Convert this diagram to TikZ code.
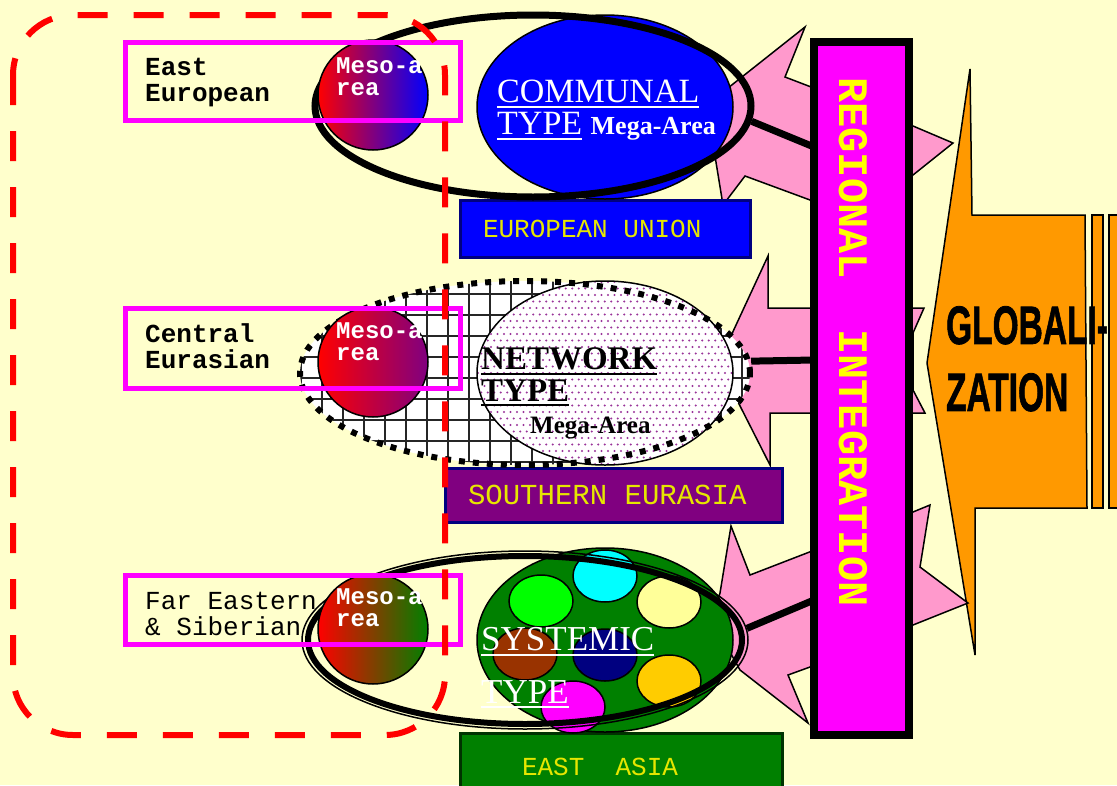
\documentclass[tikz,border=0pt]{standalone}
\usepackage{fontspec}
\setmainfont{Liberation Serif}
\newfontfamily\monofont{Liberation Mono}[WordSpace={1,0,0}]
\newfontfamily\globfont{Liberation Sans}[FakeBold=1.5]
\usepackage{tikz}
\usetikzlibrary{shapes.geometric}
\definecolor{paper}{HTML}{FFFFCC}
\definecolor{pinkarrow}{HTML}{FF99CC}
\definecolor{globorange}{HTML}{FF9900}
\definecolor{boxyellow}{HTML}{E6E600}
\definecolor{baryellow}{HTML}{FFFF00}
\definecolor{navyline}{HTML}{000080}
\definecolor{eurasia}{HTML}{800080}
\definecolor{asiagreen}{HTML}{008000}
\definecolor{asialine}{HTML}{003300}
\definecolor{dotpurple}{HTML}{993399}
\definecolor{brownarea}{HTML}{993300}
\definecolor{goldarea}{HTML}{FFCC00}
\definecolor{paleyellow}{HTML}{FFFF99}
\definecolor{fullmagenta}{HTML}{FF00FF}
\definecolor{fullcyan}{HTML}{00FFFF}
\definecolor{fullgreen}{HTML}{00FF00}
\definecolor{fullblue}{HTML}{0000FF}
\definecolor{fullred}{HTML}{FF0000}
\newcommand\typeline[1]{\vtop{\hbox{#1}\kern3pt\hrule height 2pt}}
\newcommand\monogap{\hspace*{0.6em}}

\begin{document}
\begin{tikzpicture}[x=1pt, y=-1pt,
  pinkspike/.style={fill=pinkarrow, draw=black, line width=1.5pt},
  areabox/.style={rectangle, line width=3pt, inner sep=0pt, align=left, text=boxyellow, font=\monofont\fontsize{26}{26}\selectfont},
  megashape/.style={ellipse, draw=black, line width=1.5pt, minimum width=256pt, minimum height=184pt, inner sep=0pt},
  ring/.style={ellipse, draw=black, inner sep=0pt},
  megatext/.style={anchor=north west, inner sep=0pt, align=left},
  tie/.style={line width=7pt},
  meso/.style={circle, draw=black, line width=1.5pt, minimum size=110pt, inner sep=0pt},
  mesotext/.style={anchor=north west, inner sep=0pt, align=left, text=white, font=\monofont\bfseries\fontsize{24}{22}\selectfont},
  labelbox/.style={rectangle, draw=fullmagenta, line width=5pt, minimum width=335pt, inner sep=0pt},
  labeltext/.style={anchor=north west, inner sep=0pt, align=left},
  areadot/.style={ellipse, draw=black, line width=1.5pt, minimum width=64pt, minimum height=52pt, inner sep=0pt}]
\fill[paper] (0,0) rectangle (1117,785);
\useasboundingbox (0,0) rectangle (1117,785);

\filldraw[fill=globorange, draw=black, line width=1.5pt] (970,69) -- (972,215) -- (1085,215) -- (1087,508) -- (975,508) -- (975,655) -- (927,363) -- cycle;
\filldraw[fill=globorange, draw=black, line width=1.5pt] (1092,215) rectangle (1103,508) (1109,215) rectangle (1122,508);
\node[anchor=north west, inner sep=0pt, align=left, xscale=0.62, font=\globfont\bfseries\fontsize{54}{67}\selectfont] (glob) at (946,306) {GLOBALI-\\ZATION};

\filldraw[pinkspike] (805,27) -- (785,77) -- (913,126) -- (953,143) -- (913,175) -- (810,200) -- (745,176) -- (723,205) -- (714,150) -- (728,88) -- cycle;
\filldraw[pinkspike] (768,256) -- (768,308) -- (924,308) -- (913,333) -- (913,390) -- (925,413) -- (770,413) -- (770,465) -- (737,400) -- (720,370) -- (730,338) -- cycle;
\filldraw[pinkspike] (731,526) -- (750,575) -- (913,512) -- (930,505) -- (920,567) -- (968,603) -- (913,625) -- (810,667) -- (788,675) -- (808,723) -- (740,670) -- (712,620) -- (720,593) -- cycle;

\node[areabox, draw=navyline, fill=fullblue, minimum width=290pt, minimum height=57pt, text width=244pt] (eu) at (605,228.5) {EUROPEAN\monogap UNION};
\node[areabox, draw=navyline, fill=eurasia, minimum width=337pt, minimum height=54pt, text width=291pt, font=\monofont\fontsize{29}{29}\selectfont] (se) at (613.5,495) {SOUTHERN\monogap EURASIA};
\node[areabox, draw=asialine, fill=asiagreen, minimum width=322pt, minimum height=67pt, text width=198pt] (ea) at (621,766.5) {EAST\monogap\monogap ASIA};

\node[megashape, fill=fullblue] (communal) at (605,107) {};
\node[ring, line width=7pt, minimum width=436pt, minimum height=182pt] (commring) at (533,106) {};
\node[megatext, text=white, font=\fontsize{34}{32}\selectfont] (commtext) at (497,80) {\typeline{COMMUNAL}\\\typeline{TYPE} {\bfseries\fontsize{26}{26}\selectfont Mega-Area}};

\begin{scope}
\clip (525,373) ellipse [x radius=225, y radius=92];
\fill[white] (300,281) rectangle (750,465);
\draw[step=21pt, line width=2pt, black!85, xshift=7pt] (280,480) grid (760,260);
\end{scope}
\node[megashape, fill=white] (network) at (605,373) {};
\begin{scope}
\clip (605,373) ellipse [x radius=127, y radius=91];
\foreach \j in {0,...,28} \foreach \i in {0,...,39} \fill[dotpurple] ({478+6.5*\i+3.25*mod(\j,2)},{282+6.5*\j}) circle (1.2);
\end{scope}
\node[ring, line width=6pt, dash pattern=on 6pt off 8pt, minimum width=450pt, minimum height=184pt] (netring) at (525,373) {};
\node[megatext, font=\bfseries\fontsize{33}{32}\selectfont] (nettext) at (481,347) {\typeline{NETWORK}\\\typeline{TYPE}\\\hspace*{49pt}{\fontsize{25}{25}\selectfont Mega-Area}};

\node[megashape, fill=asiagreen] (systemic) at (605,640) {};
\foreach \name/\cx/\cy/\col in {dotlime/541/601/fullgreen, dotaqua/605/576/fullcyan, dotpale/669/602/paleyellow, dotbrown/525/654/brownarea, dotnavy/605/655/navyline, dotgold/669/681/goldarea, dotpink/573/707/fullmagenta}
  \node[areadot, fill=\col] (\name) at (\cx,\cy) {};
\node[ring, line width=1.5pt, minimum width=446pt, minimum height=178pt] (sysring) at (525,640) {};
\node[ring, line width=6pt, minimum width=434pt, minimum height=168pt] (sysband) at (525,640) {};
\node[megatext, text=white, font=\fontsize{35}{53}\selectfont] (systext) at (481,627) {\typeline{SYSTEMIC}\\\typeline{TYPE}};

\coordinate (b1) at (814,147);
\coordinate (b2) at (814,360);
\coordinate (b3) at (814,600);
\draw[tie] (commring.-4) -- (b1);
\draw[tie] (netring.3) -- (b2);
\draw[tie] (sysring.3) -- (b3);

\node[rectangle, draw=black, line width=8pt, fill=fullmagenta, minimum width=95pt, minimum height=693pt, inner sep=0pt] (bar) at (861.5,388.5) {};
\node[rotate=-90, inner sep=0pt, text=baryellow, font=\monofont\bfseries\fontsize{42}{42}\selectfont] (bartext) at (853.5,342) {REGIONAL\monogap\monogap INTEGRATION};

\node[meso, left color=fullred, right color=fullblue] (meso1) at (373,95) {};
\node[meso, left color=fullred, right color=eurasia] (meso2) at (373,362) {};
\node[meso, left color=fullred, right color=asiagreen] (meso3) at (373,629) {};
\node[mesotext] (meso1text) at (336,57) {Meso-a\\rea};
\node[mesotext] (meso2text) at (336,322) {Meso-a\\rea};
\node[mesotext] (meso3text) at (336,588) {Meso-a\\rea};

\node[labelbox, minimum height=78pt] (eastbox) at (293,81.5) {};
\node[labelbox, minimum height=80pt] (centralbox) at (293,348.5) {};
\node[labelbox, minimum height=69pt] (farbox) at (293,610) {};
\node[labeltext, font=\monofont\bfseries\fontsize{26}{26}\selectfont] (easttext) at (145,58) {East\\European};
\node[labeltext, font=\monofont\bfseries\fontsize{26}{26}\selectfont] (centraltext) at (145,323) {Central\\Eurasian};
\node[labeltext, font=\monofont\fontsize{26}{26}\selectfont] (fartext) at (145,592) {Far\monogap Eastern\\\&\monogap Siberian};

\draw[fullred, line width=6pt, dash pattern=on 30pt off 26pt, rounded corners=60pt] (13,15) rectangle (445,735);
\end{tikzpicture}
\end{document}
